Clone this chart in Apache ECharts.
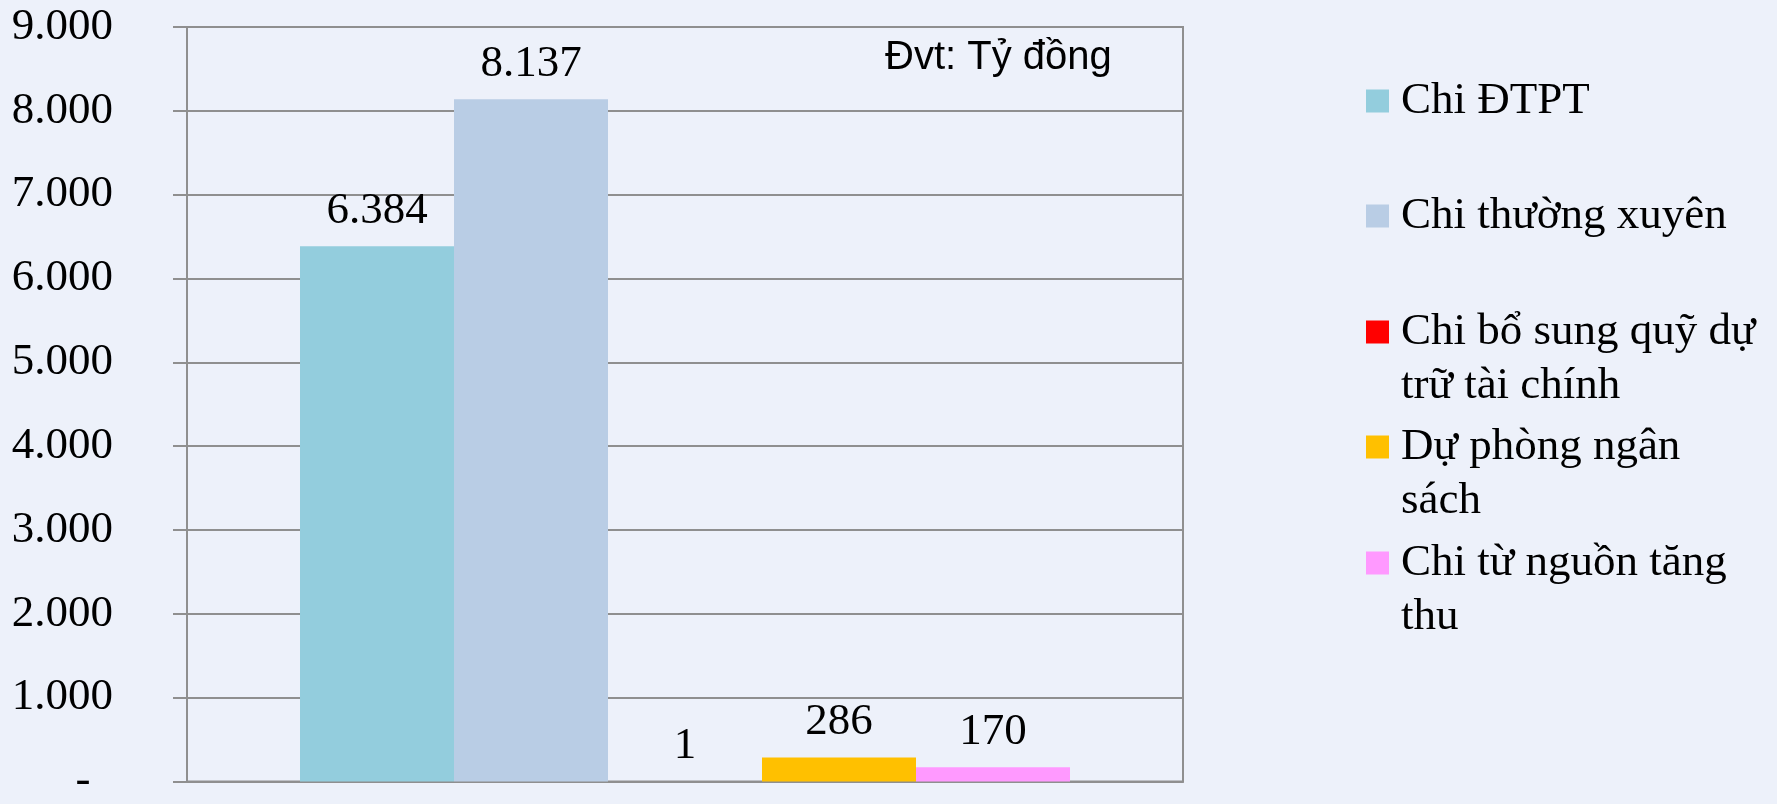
<!DOCTYPE html>
<html>
<head>
<meta charset="utf-8">
<script src="https://cdn.jsdelivr.net/npm/echarts@6/dist/echarts.min.js"></script>
<style>
    html, body { margin: 0; padding: 0; background: #edf1fa; }
</style>
</head>
<body>
<div id="main" style="width: 1777px;height:804px;"></div>
<script>
    // Dữ liệu
    var categories = [''];
    var seriesNames = ['Chi ĐTPT', 'Chi thường xuyên', 'Chi bổ sung quỹ dự trữ tài chính', 'Dự phòng ngân sách', 'Chi từ nguồn tăng thu'];
    var legendText = ['Chi ĐTPT', 'Chi thường xuyên', 'Chi bổ sung quỹ dự\ntrữ tài chính', 'Dự phòng ngân\nsách', 'Chi từ nguồn tăng\nthu'];
    var seriesValues = [6384, 8137, 1, 286, 170];
    var colors = ['#93cddd', '#b9cde5', '#ff0000', '#ffc000', '#ff99ff'];
    var yTicks = [0, 1000, 2000, 3000, 4000, 5000, 6000, 7000, 8000, 9000];
    var unitText = 'Đvt: Tỷ đồng';

    // tâm ô màu chú thích (px)
    var legendCenters = [101, 216, 332, 447, 563];
    var lineH = 54;
    var serif = '"Liberation Serif", "Times New Roman", serif';

    function fmt(v) {
        return String(v).replace(/\B(?=(\d{3})+(?!\d))/g, '.');
    }

    var myChart = echarts.init(document.getElementById('main'));

    var series = [];
    for (var i = 0; i < seriesNames.length; i++) {
        series.push({
            name: seriesNames[i],
            type: 'bar',
            data: [seriesValues[i]],
            barWidth: 154,
            barGap: '0%',
            itemStyle: { color: colors[i] },
            label: {
                show: true,
                position: 'top',
                distance: 13,
                fontFamily: serif,
                fontSize: 45,
                color: '#000',
                formatter: function (p) { return fmt(p.value); }
            },
            animation: false
        });
    }

    // mỗi mục chú thích một legend riêng; mục 2 dòng thêm 1 dòng trống ở đầu
    // để ô màu thẳng hàng với dòng đầu tiên
    var legends = [];
    for (var j = 0; j < seriesNames.length; j++) {
        var twoLines = legendText[j].indexOf('\n') >= 0;
        var txt = twoLines ? ' \n' + legendText[j] : legendText[j];
        legends.push({
            data: [seriesNames[j]],
            left: 1366,
            top: legendCenters[j] - (twoLines ? lineH * 1.5 : lineH / 2),
            padding: 0,
            orient: 'vertical',
            itemWidth: 23,
            itemHeight: 23,
            icon: 'rect',
            selectedMode: false,
            formatter: (function (t) { return function () { return t; }; })(txt),
            textStyle: {
                fontFamily: serif,
                fontSize: 45,
                lineHeight: lineH,
                color: '#000',
                padding: [0, 0, 0, 7]
            }
        });
    }

    var option = {
        backgroundColor: '#edf1fa',
        title: {
            text: unitText,
            left: 885,
            top: 38,
            padding: 0,
            textStyle: {
                fontFamily: '"Liberation Sans", Arial, sans-serif',
                fontSize: 40,
                fontWeight: 'normal',
                color: '#000'
            }
        },
        legend: legends,
        grid: {
            left: 187,
            right: 594,
            top: 27,
            bottom: 11,
            show: true,
            borderColor: '#8f8f8f',
            borderWidth: 2,
            containLabel: false
        },
        xAxis: {
            type: 'category',
            data: categories,
            axisLabel: { show: false },
            axisTick: { show: false },
            axisLine: { show: true, lineStyle: { color: '#8f8f8f', width: 2 } }
        },
        yAxis: {
            type: 'value',
            min: yTicks[0],
            max: yTicks[yTicks.length - 1],
            interval: 1000,
            axisLine: { show: true, lineStyle: { color: '#8f8f8f', width: 2 } },
            axisTick: { show: true, length: 14, lineStyle: { color: '#8f8f8f', width: 2 } },
            splitLine: { show: true, lineStyle: { color: '#8f8f8f', width: 2 } },
            axisLabel: {
                margin: 74,
                fontFamily: serif,
                fontSize: 45,
                color: '#000',
                formatter: function (v) { return v === 0 ? '-  ' : fmt(v); }
            }
        },
        series: series
    };

    myChart.setOption(option);
</script>
</body>
</html>
